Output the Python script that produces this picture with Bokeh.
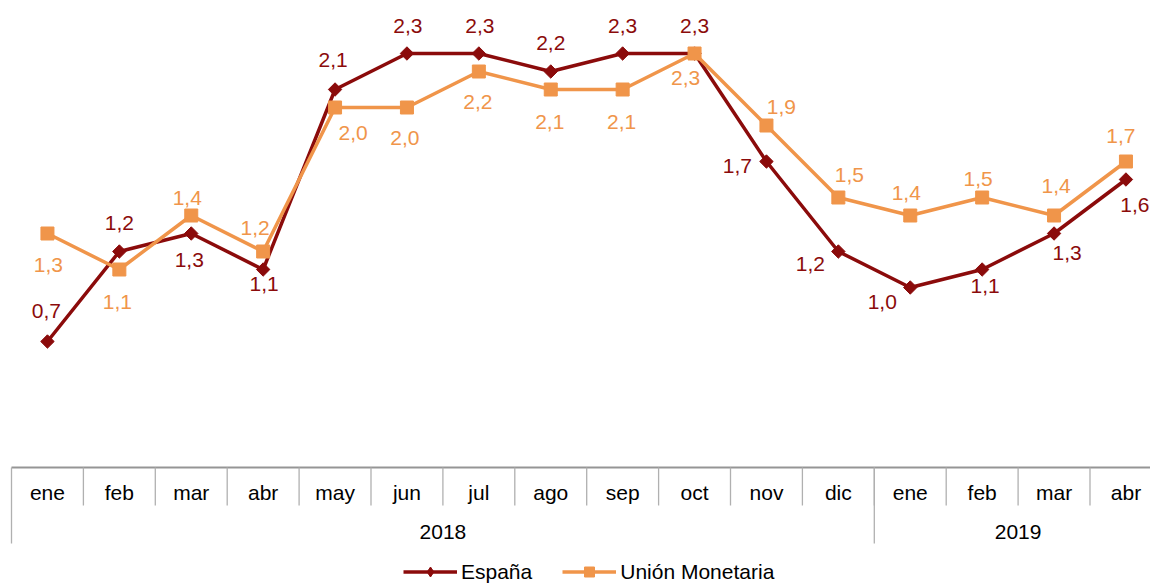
import math
from bokeh.plotting import figure
from bokeh.models import ColumnDataSource, Range1d, Legend, LegendItem
from bokeh.core.properties import value
from bokeh.embed import file_html
from bokeh.resources import INLINE

# ---------------- data ----------------
months = ["ene", "feb", "mar", "abr", "may", "jun", "jul", "ago",
          "sep", "oct", "nov", "dic", "ene", "feb", "mar", "abr"]
years = ["2018", "2019"]
year_months = [12, 4]
espana = [0.7, 1.2, 1.3, 1.1, 2.1, 2.3, 2.3, 2.2, 2.3, 2.3, 1.7, 1.2, 1.0, 1.1, 1.3, 1.6]
union = [1.3, 1.1, 1.4, 1.2, 2.0, 2.0, 2.2, 2.1, 2.1, 2.3, 1.9, 1.5, 1.4, 1.5, 1.4, 1.7]

# ---------------- label placement (style, pixels) ----------------
esp_dx = [-1, 0, -2, 1, -2, 1, 1, 0, 0, 0, -29, -28, -28, 3, 13, 9]
esp_dy = [-31, -29, 26, 14, -30, -28, -28, -29, -28, -28, 4, 12, 14, 16, 19, 25]
uni_dx = [1, -2, -4, -8, 18, -2, -1, -1, -1, -9, 15, 11, -4, -4, 2, -5]
uni_dy = [31, 32, -18, -24, 25, 30, 30, 32, 32, 24, -19, -23, -23, -19, -30, -26]

RED = "#8B0B0B"
ORANGE = "#F0954A"
GRID_TOP = "#959595"
GRID_V = "#B0B0B0"
FONT = "Liberation Sans"
FS = "21px"

W, H = 1150, 584
PX_PER_UNIT = 180.0          # vertical pixels per value unit
ZERO_PX = 467.0              # pixel row of value 0 from figure top
CAT_PX = 71.9                # pixels per category
LEFT_PX = 11.0               # pixel column of the table's left edge

MONTH_ROW_BOTTOM = -(505 - ZERO_PX) / PX_PER_UNIT
YEAR_ROW_BOTTOM = -(543 - ZERO_PX) / PX_PER_UNIT
MONTH_LABEL_Y = -(492 - ZERO_PX) / PX_PER_UNIT
YEAR_LABEL_Y = -(531 - ZERO_PX) / PX_PER_UNIT

n = len(months)
xs = list(range(n))

x0 = -0.5 - LEFT_PX / CAT_PX
p = figure(width=W, height=H, output_backend="svg", toolbar_location=None,
           x_range=Range1d(x0, x0 + W / CAT_PX),
           y_range=Range1d(-(H - ZERO_PX) / PX_PER_UNIT, ZERO_PX / PX_PER_UNIT),
           x_axis_type=None, y_axis_type=None, min_border=0)
p.grid.visible = False
p.outline_line_color = None
p.background_fill_color = "white"
p.border_fill_color = "white"

# ---------------- category table ----------------
p.segment(x0=[-0.5], y0=[0], x1=[n - 0.5], y1=[0], line_color=GRID_TOP, line_width=2)
p.segment(x0=[i - 0.5 for i in range(1, n)], y0=[0] * (n - 1),
          x1=[i - 0.5 for i in range(1, n)], y1=[MONTH_ROW_BOTTOM] * (n - 1),
          line_color=GRID_V, line_width=1.3)
starts = []
acc = 0
for c in year_months:
    starts.append(acc)
    acc += c
p.segment(x0=[s - 0.5 for s in starts], y0=[0] * len(starts),
          x1=[s - 0.5 for s in starts], y1=[YEAR_ROW_BOTTOM] * len(starts),
          line_color=GRID_V, line_width=1.3)
p.text(x=xs, y=[MONTH_LABEL_Y] * n, text=months, text_align="center",
       text_baseline="middle", text_font=value(FONT), text_font_size=value(FS),
       text_color="#000000")
p.text(x=[s + c / 2 - 0.5 for s, c in zip(starts, year_months)],
       y=[YEAR_LABEL_Y] * len(years), text=years, text_align="center",
       text_baseline="middle", text_font=value(FONT), text_font_size=value(FS),
       text_color="#000000")

# ---------------- series ----------------
def fmt(v):
    return f"{v:.1f}".replace(".", ",")

esp_src = ColumnDataSource(dict(x=xs, y=espana, label=[fmt(v) for v in espana],
                                dx=esp_dx, dy=esp_dy))
uni_src = ColumnDataSource(dict(x=xs, y=union, label=[fmt(v) for v in union],
                                dx=uni_dx, dy=uni_dy))

esp_line = p.line("x", "y", source=esp_src, line_color=RED, line_width=3.5)
p.scatter("x", "y", source=esp_src, marker="square", angle=math.pi / 4, size=9.5,
          fill_color=RED, line_color=RED)
# diamond glyph used for the legend swatch (zero size on the plot itself)
esp_leg_marker = p.scatter("x", "y", source=esp_src, marker="diamond", size=0,
                           fill_color=RED, line_color=RED, line_width=1)

uni_line = p.line("x", "y", source=uni_src, line_color=ORANGE, line_width=3.5)
uni_marker = p.scatter("x", "y", source=uni_src, marker="square", size=13,
                       fill_color=ORANGE, line_color=ORANGE)

p.text(x="x", y="y", text="label", x_offset="dx", y_offset="dy", source=esp_src,
       text_align="center", text_baseline="middle", text_font=value(FONT),
       text_font_size=value(FS), text_color=RED)
p.text(x="x", y="y", text="label", x_offset="dx", y_offset="dy", source=uni_src,
       text_align="center", text_baseline="middle", text_font=value(FONT),
       text_font_size=value(FS), text_color=ORANGE)

legend = Legend(items=[
    LegendItem(label="España", renderers=[esp_line, esp_leg_marker]),
    LegendItem(label="Unión Monetaria", renderers=[uni_line, uni_marker]),
], orientation="horizontal", location=(403, 0), padding=0, margin=0, spacing=30,
    glyph_width=54, glyph_height=25, label_standoff=4,
    label_text_font=FONT, label_text_font_size=FS, label_text_color="#000000",
    background_fill_alpha=0, border_line_color=None)
p.add_layout(legend)

open("out.html", "w").write(file_html(p, INLINE))
